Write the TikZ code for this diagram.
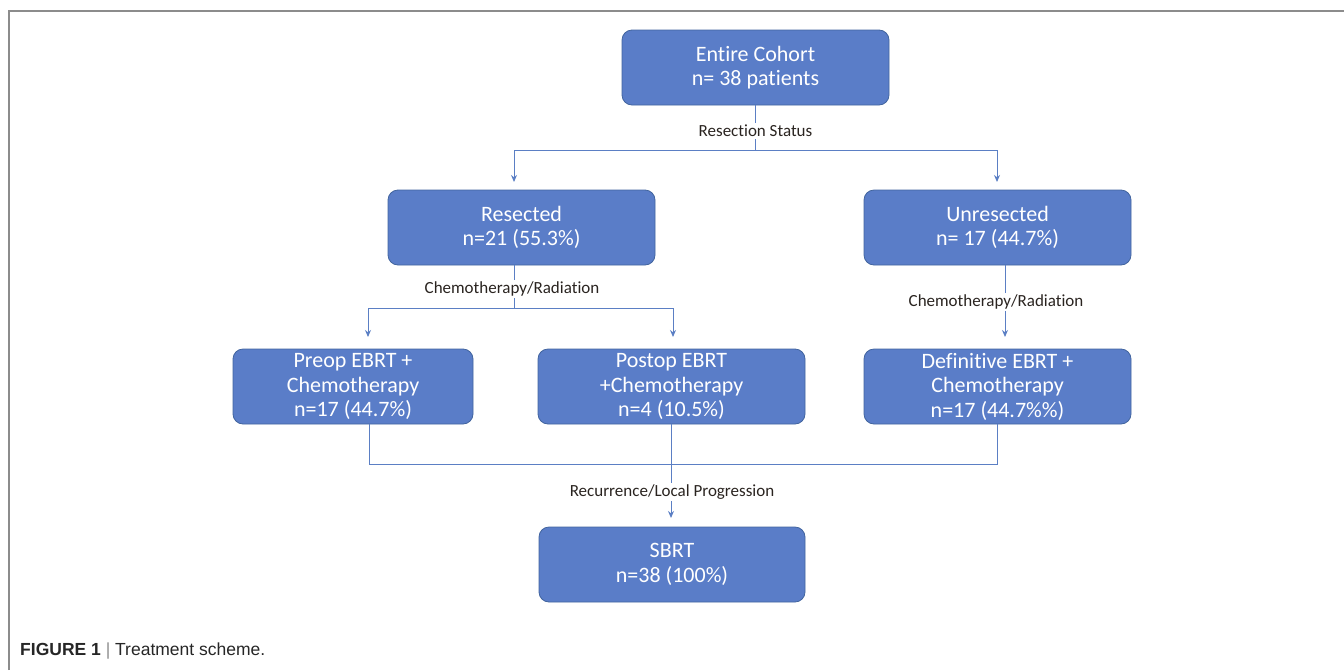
\documentclass[tikz,border=0pt]{standalone}
\usepackage{fontspec}
\setmainfont[Ligatures=NoCommon]{Carlito}
\newfontfamily\capfont{Liberation Sans}
\usetikzlibrary{arrows.meta}
\definecolor{boxfill}{HTML}{5A7DC8}
\definecolor{boxline}{HTML}{41649E}
\definecolor{connc}{HTML}{5B7FC4}
\definecolor{framec}{HTML}{8C8C8C}
\definecolor{lblc}{HTML}{2A2420}
\begin{document}
\begin{tikzpicture}[x=1pt,y=-1pt,
  box/.style={draw=boxline, line width=0.8pt, fill=boxfill, rounded corners=10pt,
    text=white, font=\fontsize{22}{24.5}\selectfont, align=center, inner sep=0pt,
    minimum width=267pt, minimum height=75pt},
  conn/.style={draw=connc, line width=1pt},
  arr/.style={conn, -{Stealth[length=7pt,width=6pt]}},
  lbl/.style={fill=white, font=\fontsize{17}{19}\selectfont, text=lblc, inner sep=2pt}]
\useasboundingbox (0,0) rectangle (1344,670);
\draw[framec, line width=1.5pt] (9,670) -- (9,11) -- (1344,11);

% boxes
\node[box] (ec) at (755.5,67.5) {Entire Cohort\\n= 38 patients};
\node[box] (res) at (521.5,227.5) {Resected\\n=21 (55.3\%)};
\node[box] (unres) at (997.5,227.5) {Unresected\\n= 17 (44.7\%)};
\node[box, minimum width=240pt] (pre) at (353,386.5) {Preop EBRT +\\Chemotherapy\\n=17 (44.7\%)};
\node[box] (post) at (671.5,386.5) {Postop EBRT\\+Chemotherapy\\n=4 (10.5\%)};
\node[box] (def) at (997.5,386.5) {Definitive EBRT +\\Chemotherapy\\n=17 (44.7\%\%)};
\node[box, minimum width=266pt] (sbrt) at (672,564.5) {SBRT\\n=38 (100\%)};

% junction coordinates
\coordinate (j1) at (755.5,150);
\coordinate (j1l) at (514,150);
\coordinate (j1r) at (997,150);
\coordinate (a1l) at (514,182);
\coordinate (a1r) at (997,182);
\coordinate (r0) at (514,265);
\coordinate (j2) at (514,308);
\coordinate (j2l) at (368,308);
\coordinate (j2r) at (673,308);
\coordinate (a2l) at (368,337);
\coordinate (a2r) at (673,337);
\coordinate (u0) at (1005,265);
\coordinate (a3) at (1005,337);
\coordinate (p0) at (369,424);
\coordinate (p1) at (369,464);
\coordinate (d0) at (997,424);
\coordinate (d1) at (997,464);
\coordinate (q0) at (671,424);
\coordinate (a4) at (671,518);

% connectors
\draw[conn] (ec.south) -- (j1);
\draw[arr] (j1) -- (j1l) -- (a1l);
\draw[arr] (j1) -- (j1r) -- (a1r);
\draw[conn] (r0) -- (j2);
\draw[arr] (j2) -- (j2l) -- (a2l);
\draw[arr] (j2) -- (j2r) -- (a2r);
\draw[arr] (u0) -- (a3);
\draw[conn] (p0) -- (p1) -- (d1) -- (d0);
\draw[arr] (q0) -- (a4);

% labels
\node[lbl] (l1) at (755.5,131) {Resection Status};
\node[lbl] (l2) at (512,289) {Chemotherapy/Radiation};
\node[lbl] (l3) at (996,302) {Chemotherapy/Radiation};
\node[lbl] (l4) at (672,492) {Recurrence/Local Progression};

% caption
\node[anchor=west, inner sep=0pt, font=\capfont\fontsize{17.5}{20}\selectfont, text=black!85] (cap) at (20,651)
  {\textbf{FIGURE 1} {\color{black!45}|} Treatment scheme.};
\end{tikzpicture}
\end{document}
